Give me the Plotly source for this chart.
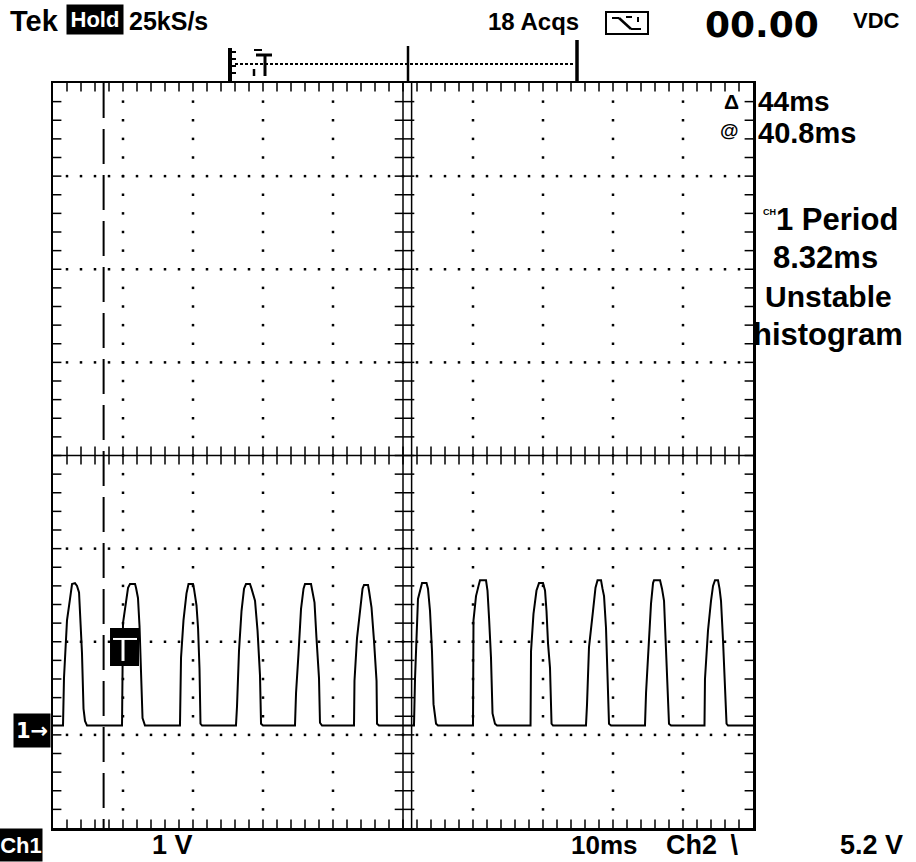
import numpy as np
import plotly.graph_objects as go

# ---------------- scope settings ----------------
TIME_PER_DIV_MS = 10          # "10ms"
VOLT_PER_DIV = 1              # "1 V"
X_RANGE = [-10.43, 89.57]     # ms, trigger at t = 0
Y_RANGE = [-1.05, 6.95]       # V, ch1 ground marker at 0 V
CURSOR_T = [-3.2, 40.8]       # ms  (delta 44 ms, @ 40.8 ms)
TRIG_T = 0.0
TRIG_LEVEL = 0.98             # V

# ---------------- CH1 trace vertices (ms, V) ----------------
pulse1_t = [-10.43, -9.0, -8.86, -8.43, -8.0, -7.71, -7.29, -7.0, -6.71, -6.57, -6.29, -6.07, -5.86, -5.57]
pulse1_v = [0.05, 0.05, 0.56, 1.18, 1.41, 1.57, 1.58, 1.55, 1.48, 1.25, 0.83, 0.23, 0.10, 0.05]
pulse2_t = [-0.57, -0.43, 0.0, 0.29, 0.57, 1.29, 1.43, 1.71, 1.93, 2.14, 2.36, 2.71]
pulse2_v = [0.05, 1.15, 1.39, 1.53, 1.57, 1.57, 1.53, 1.42, 1.12, 0.71, 0.13, 0.05]
pulse3_t = [7.71, 7.86, 8.21, 8.64, 8.93, 9.57, 9.71, 10.07, 10.29, 10.5, 10.64, 10.86]
pulse3_v = [0.05, 0.78, 1.18, 1.47, 1.57, 1.57, 1.52, 1.34, 1.10, 0.66, 0.07, 0.05]
pulse4_t = [15.71, 15.86, 16.14, 16.5, 16.86, 17.14, 17.71, 17.93, 18.43, 18.79, 19.14, 19.29, 19.57]
pulse4_v = [0.05, 0.26, 0.85, 1.28, 1.52, 1.57, 1.57, 1.52, 1.39, 1.07, 0.59, 0.07, 0.05]
pulse5_t = [24.14, 24.29, 24.64, 25.0, 25.36, 25.57, 26.43, 26.64, 26.93, 27.21, 27.57, 27.71, 28.0]
pulse5_v = [0.05, 0.40, 0.82, 1.30, 1.52, 1.57, 1.57, 1.50, 1.37, 0.99, 0.56, 0.08, 0.05]
pulse6_t = [32.57, 32.64, 33.0, 33.43, 33.79, 34.0, 34.57, 34.71, 35.07, 35.43, 35.79, 35.86, 36.14]
pulse6_v = [0.05, 0.53, 0.99, 1.32, 1.52, 1.56, 1.56, 1.50, 1.32, 0.96, 0.53, 0.07, 0.05]
pulse7_t = [41.14, 41.29, 41.71, 42.07, 42.29, 42.93, 43.14, 43.43, 43.71, 43.93, 44.29, 44.57]
pulse7_v = [0.05, 0.56, 1.41, 1.53, 1.58, 1.58, 1.52, 1.28, 0.85, 0.28, 0.07, 0.05]
pulse8_t = [49.57, 49.64, 50.0, 50.36, 50.57, 51.43, 51.64, 51.86, 52.14, 52.36, 52.71, 53.0]
pulse8_v = [0.05, 1.18, 1.44, 1.55, 1.61, 1.61, 1.50, 1.21, 0.78, 0.18, 0.07, 0.05]
pulse9_t = [57.79, 57.86, 58.21, 58.64, 59.0, 59.57, 59.86, 60.07, 60.29, 60.57, 60.79, 61.0]
pulse9_v = [0.05, 0.85, 1.25, 1.50, 1.58, 1.58, 1.50, 1.28, 0.93, 0.67, 0.07, 0.05]
pulse10_t = [65.71, 65.86, 66.14, 66.71, 67.07, 67.36, 67.86, 68.07, 68.29, 68.57, 68.79, 69.0, 69.29]
pulse10_v = [0.05, 0.28, 0.89, 1.28, 1.53, 1.61, 1.61, 1.52, 1.44, 1.10, 0.56, 0.07, 0.05]
pulse11_t = [74.14, 74.29, 74.64, 75.0, 75.29, 75.43, 76.29, 76.57, 76.86, 77.07, 77.29, 77.57, 77.86]
pulse11_v = [0.05, 0.40, 0.93, 1.36, 1.58, 1.61, 1.61, 1.52, 1.39, 1.01, 0.53, 0.07, 0.05]
pulse12_t = [82.64, 82.71, 83.14, 83.57, 83.86, 84.14, 84.57, 84.79, 85.0, 85.29, 85.57, 85.79, 86.0, 89.57]
pulse12_v = [0.05, 0.55, 1.07, 1.39, 1.55, 1.61, 1.61, 1.52, 1.39, 0.96, 0.53, 0.07, 0.05, 0.05]

PULSES_T = [pulse1_t, pulse2_t, pulse3_t, pulse4_t, pulse5_t, pulse6_t,
            pulse7_t, pulse8_t, pulse9_t, pulse10_t, pulse11_t, pulse12_t]
PULSES_V = [pulse1_v, pulse2_v, pulse3_v, pulse4_v, pulse5_v, pulse6_v,
            pulse7_v, pulse8_v, pulse9_v, pulse10_v, pulse11_v, pulse12_v]

# ---------------- readout texts ----------------
TOP_TEXTS = ["Tek", "Hold", "25kS/s", "18 Acqs", "00.00", "VDC"]
SIDE_TEXTS = ["44ms", "40.8ms", "1 Period", "8.32ms", "Unstable", "histogram"]
BOTTOM_TEXTS = ["Ch1", "1 V", "10ms", "Ch2\u2002\\", "5.2 V"]

# ---------------- geometry ----------------
W, H = 916, 862
L, R, T, B = 53, 163, 83, 34
PW, PH = W - L - R, H - T - B
X0, X1 = X_RANGE
Y0, Y1 = Y_RANGE
PX_MS = PW / (X1 - X0)
PX_V = PH / (Y1 - Y0)
XC = (X0 + X1) / 2
YC = (Y0 + Y1) / 2
FONT = "Liberation Sans, Arial, sans-serif"
WIDE = "DejaVu Sans, sans-serif"


def px(x):
    return (x - L) / PW


def py(y):
    return (H - B - y) / PH


fig = go.Figure()

# ---- dotted graticule ----
minor_x = np.arange(X0 + 2, X1 - 1, 2.0)
minor_y = np.arange(Y0 + 0.2, Y1 - 0.1, 0.2)
dx, dy = [], []
for k in range(1, 10):
    if k == 5:
        continue
    xv = X0 + k * TIME_PER_DIV_MS
    dx += [xv] * len(minor_y)
    dy += list(minor_y)
for k in range(1, 8):
    if k == 4:
        continue
    yv = Y0 + k * VOLT_PER_DIV
    dx += list(minor_x)
    dy += [yv] * len(minor_x)
fig.add_trace(go.Scatter(x=dx, y=dy, mode="markers", hoverinfo="skip",
                         marker=dict(symbol="square", size=2.5, color="black", line_width=0)))

# ---- centre crosshair ticks ----
fig.add_trace(go.Scatter(x=list(minor_x), y=[YC] * len(minor_x), mode="markers", hoverinfo="skip",
                         marker=dict(symbol="line-ns", size=13, line=dict(width=1.5, color="black"))))
fig.add_trace(go.Scatter(x=[XC + 1.5 / PX_MS] * len(minor_y), y=list(minor_y), mode="markers", hoverinfo="skip",
                         marker=dict(symbol="line-ew", size=14, line=dict(width=1.5, color="black"))))

# ---- border ticks ----
TL = 7
hx, hy = TL / 2 / PX_MS, TL / 2 / PX_V
fig.add_trace(go.Scatter(x=list(minor_x) * 2, y=[Y1 - hy] * len(minor_x) + [Y0 + hy] * len(minor_x),
                         mode="markers", hoverinfo="skip", cliponaxis=False,
                         marker=dict(symbol="line-ns", size=TL, line=dict(width=1.5, color="black"))))
fig.add_trace(go.Scatter(x=[X0 + hx] * len(minor_y) + [X1 - hx] * len(minor_y), y=list(minor_y) * 2,
                         mode="markers", hoverinfo="skip", cliponaxis=False,
                         marker=dict(symbol="line-ew", size=TL, line=dict(width=1.5, color="black"))))

# ---- CH1 waveform ----
t_all, v_all = [], []
for tt, vv in zip(PULSES_T, PULSES_V):
    t_all += tt
    v_all += vv
fig.add_trace(go.Scatter(x=t_all, y=v_all, mode="lines", hoverinfo="skip",
                         line=dict(color="black", width=2)))

shapes = []
# centre lines
shapes.append(dict(type="line", xref="paper", yref="y", x0=0, x1=1, y0=YC, y1=YC,
                   line=dict(color="black", width=1.5)))
shapes.append(dict(type="line", xref="x", yref="paper", x0=XC, x1=XC, y0=0, y1=1,
                   line=dict(color="black", width=1.5)))
# cursors
shapes.append(dict(type="line", xref="x", yref="paper", x0=CURSOR_T[0], x1=CURSOR_T[0], y0=1, y1=0,
                   line=dict(color="black", width=2, dash="35px,11px")))
shapes.append(dict(type="line", xref="x", yref="paper", x0=CURSOR_T[1], x1=CURSOR_T[1], y0=1, y1=0,
                   line=dict(color="black", width=1.5)))
# trigger marker
shapes.append(dict(type="rect", xref="x", yref="y",
                   x0=TRIG_T - 16 / PX_MS, x1=TRIG_T + 13 / PX_MS,
                   y0=TRIG_LEVEL - 27 / PX_V, y1=TRIG_LEVEL + 11 / PX_V,
                   fillcolor="black", line=dict(width=0)))
shapes.append(dict(type="line", xref="x", yref="y",
                   x0=TRIG_T - 13 / PX_MS, x1=TRIG_T + 11 / PX_MS, y0=TRIG_LEVEL, y1=TRIG_LEVEL,
                   line=dict(color="white", width=2)))
shapes.append(dict(type="line", xref="x", yref="y",
                   x0=TRIG_T - 3 / PX_MS, x1=TRIG_T - 3 / PX_MS, y0=TRIG_LEVEL, y1=TRIG_LEVEL - 22 / PX_V,
                   line=dict(color="white", width=3)))


# record-view bar at top
def pline(x0, y0, x1, y1, w=2, dash=None):
    d = dict(type="line", xref="paper", yref="paper", x0=px(x0), y0=py(y0), x1=px(x1), y1=py(y1),
             line=dict(color="black", width=w))
    if dash:
        d["line"]["dash"] = dash
    return d


shapes.append(pline(235, 64, 574, 64, 2, "3px,2px"))
shapes.append(pline(230, 48, 230, 83, 4))
for yy in (52, 59, 66, 73):
    shapes.append(pline(230, yy, 236, yy, 2))
shapes.append(pline(408, 46, 408, 83, 2.5))
shapes.append(pline(577, 40, 577, 83, 3.5))
shapes.append(pline(256, 55, 272, 55, 3))
shapes.append(pline(265, 55, 265, 76, 3))
shapes.append(pline(254, 50, 262, 50, 2))
shapes.append(pline(254, 69, 254, 76, 2.5))
# trigger slope icon
shapes.append(dict(type="rect", xref="paper", yref="paper", x0=px(606), x1=px(648), y0=py(12), y1=py(34),
                   line=dict(color="black", width=2), fillcolor="white"))
shapes.append(pline(612, 18, 619, 18, 2))
shapes.append(pline(619, 18, 631, 29, 2.5))
shapes.append(pline(631, 29, 641, 29, 2))
shapes.append(pline(626, 17, 632, 17, 2))
shapes.append(pline(638, 17, 638, 22, 2))

annotations = []


def ann(text, xl, yc, size, anchor="left", color="black", bg=None, w=None, h=None,
        yref="paper", yval=None, family=FONT):
    d = dict(text=text, xref="paper", yref=yref, x=px(xl), y=py(yc) if yval is None else yval,
             xanchor=anchor, yanchor="middle", showarrow=False,
             font=dict(family=family, size=size, color=color, weight="bold"))
    if bg:
        d.update(bgcolor=bg, width=w, height=h, align="center", borderpad=0)
    annotations.append(d)


# top line
ann(TOP_TEXTS[0], 8, 21, 29)
ann(TOP_TEXTS[1], 95, 19, 22, anchor="center", color="white", bg="black", w=56, h=29)
ann(TOP_TEXTS[2], 127, 21, 25)
ann(TOP_TEXTS[3], 486, 22, 24)
ann(TOP_TEXTS[4], 703, 24, 36, family=WIDE)
ann(TOP_TEXTS[5], 851, 21, 22)
# right side readouts
ann("\u0394", 741, 101, 21, anchor="right")
ann("@", 741, 131, 19, anchor="right")
ann(SIDE_TEXTS[0], 756, 102, 28)
ann(SIDE_TEXTS[1], 756, 133, 29)
ann("CH", 761, 212, 9)
ann(SIDE_TEXTS[2], 774, 219, 31)
ann(SIDE_TEXTS[3], 771, 257, 31)
ann(SIDE_TEXTS[4], 763, 296, 30)
ann(SIDE_TEXTS[5], 751, 334, 31)
# bottom line
ann(BOTTOM_TEXTS[0], 21, 845, 22, anchor="center", color="white", bg="black", w=42, h=32)
ann(BOTTOM_TEXTS[1], 150, 845, 27)
ann(BOTTOM_TEXTS[2], 569, 845, 26)
ann(BOTTOM_TEXTS[3], 664, 845, 27)
ann(BOTTOM_TEXTS[4], 838, 845, 27)
# ch1 ground marker
ann("1\u2192", 32, 0, 21, anchor="center", color="white", bg="black", w=36, h=33, yref="y", yval=0,
    family=WIDE)

axis_common = dict(showgrid=False, zeroline=False, showticklabels=False, ticks="",
                   showline=True, mirror=True, linecolor="black", linewidth=2.5, fixedrange=True)
fig.update_layout(
    width=W, height=H, margin=dict(l=L, r=R, t=T, b=B, pad=0),
    paper_bgcolor="white", plot_bgcolor="white", showlegend=False,
    xaxis=dict(range=X_RANGE, **axis_common),
    yaxis=dict(range=Y_RANGE, **axis_common),
    shapes=shapes, annotations=annotations,
)

fig.write_html("out.html", config={"displayModeBar": False, "staticPlot": True},
               post_script="document.body.style.margin='0px';")
